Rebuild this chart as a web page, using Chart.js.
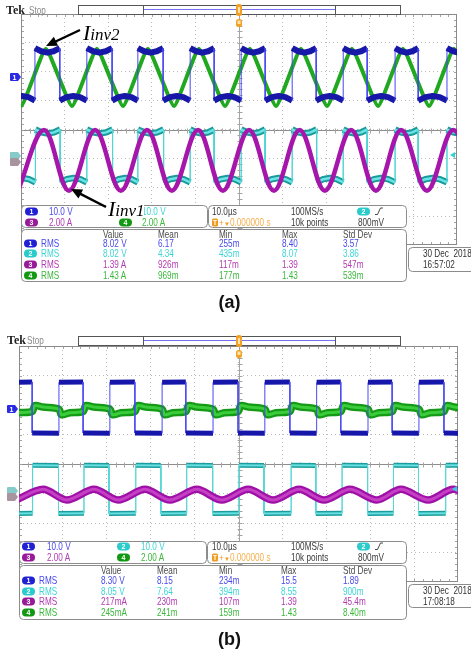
<!DOCTYPE html>
<html>
<head>
<meta charset="utf-8">
<title>Oscilloscope captures</title>
<script src="https://cdn.jsdelivr.net/npm/chart.js"></script>
<style>
  html, body { margin: 0; padding: 0; background: #fff; }
  #page { position: relative; width: 471px; height: 651px; overflow: hidden; background: #fff; }
  .scr { position: absolute; }
  .scr canvas { display: block; }
  #ov { position: absolute; left: 0; top: 0; }
</style>
</head>
<body>
<div id="page">
  <div class="scr" style="left:21px;top:14px;width:436px;height:231px"><canvas id="cA" width="436" height="231"></canvas></div>
  <div class="scr" style="left:19px;top:346px;width:439px;height:236px"><canvas id="cB" width="439" height="236"></canvas></div>
  <svg id="ov" width="471" height="651" xmlns="http://www.w3.org/2000/svg"></svg>
</div>
<script>
// ---------------- DATA (time in µs across the 100 µs screen, amplitude in divisions) ----------------
// Panel (a)
const A_CH1_EDGES = [-2.7, 3.2, 8.9, 15.1, 20.9, 26.8, 32.6, 38.8, 44.3, 50.5, 56.0, 62.2, 67.7, 73.9, 79.4, 85.8, 91.1, 97.7, 103.5];
const A_CH1_HIGH = [[0, 2.82], [0.25, 2.71], [0.5, 2.66], [0.75, 2.71], [1, 2.82]];
const A_CH1_LOW  = [[0, 1.00], [0.25, 1.12], [0.5, 1.16], [0.75, 1.12], [1, 1.00]];
const A_CH2_EDGES = [-2.7, 3.3, 9.0, 15.1, 21.0, 26.8, 32.7, 38.8, 44.3, 50.5, 56.0, 62.2, 67.8, 73.9, 79.4, 85.8, 91.1, 97.7, 103.5];
const A_CH2_HIGH = [[0, 0.00], [0.25, -0.10], [0.5, -0.14], [0.75, -0.10], [1, 0.00]];
const A_CH2_LOW  = [[0, -1.83], [0.25, -1.72], [0.5, -1.68], [0.75, -1.72], [1, -1.83]];
const A_CH3_T = [-0.7, 5.3, 11.0, 17.0, 22.9, 28.9, 34.6, 40.6, 46.3, 52.3, 58.0, 63.9, 69.7, 75.7, 81.4, 87.2, 93.1, 99.1, 104.9];
const A_CH3_V = [-2.12, -0.02, -2.12, -0.02, -2.12, -0.02, -2.12, -0.02, -2.12, -0.02, -2.12, -0.02, -2.12, -0.02, -2.12, -0.02, -2.12, -0.02, -2.12];
const A_CH4_T = [-6.0, 0.0, 5.7, 11.7, 17.4, 23.4, 29.1, 35.1, 40.8, 46.8, 52.5, 58.5, 64.2, 70.2, 75.9, 81.9, 87.6, 93.6, 99.3, 105.3];
const A_CH4_V = [2.80, 0.81, 2.80, 0.81, 2.80, 0.81, 2.80, 0.81, 2.80, 0.81, 2.80, 0.81, 2.80, 0.81, 2.80, 0.81, 2.80, 0.81, 2.80, 0.81];

// Panel (b)
const B_CH1_EDGES = [-2.6, 3.0, 9.1, 14.6, 20.7, 26.4, 32.6, 38.0, 44.2, 49.9, 56.0, 61.7, 67.8, 73.3, 79.5, 85.0, 91.1, 96.8, 102.8];
const B_CH1_HIGH = [[0, 2.77], [1, 2.78]];
const B_CH1_LOW  = [[0, 1.05], [1, 1.04]];
const B_CH2_EDGES = [-2.7, 3.1, 9.0, 14.8, 20.5, 26.6, 32.3, 38.2, 44.1, 50.1, 55.8, 62.0, 67.6, 73.6, 79.4, 85.3, 91.0, 97.2, 102.8];
const B_CH2_HIGH = [[0, -0.04], [1, -0.05]];
const B_CH2_LOW  = [[0, -1.68], [1, -1.67]];
const B_CH4_EDGES = [-2.6, 3.0, 9.1, 14.6, 20.7, 26.4, 32.6, 38.0, 44.2, 49.9, 56.0, 61.7, 67.8, 73.3, 79.5, 85.0, 91.1, 96.8, 102.8];
const B_CH4_UP   = [[0.1, 1.98], [0.4, 1.93], [1, 1.86]];
const B_CH4_DOWN = [[0.1, 1.67], [0.45, 1.74], [1, 1.78]];
const B_CH3_T = [-0.7, 5.5, 10.9, 17.1, 22.6, 28.7, 34.4, 40.5, 46.2, 52.2, 57.9, 63.8, 69.5, 75.4, 81.5, 87.0, 93.2, 98.9, 104.8];
const B_CH3_V = [-1.22, -0.86, -1.22, -0.86, -1.22, -0.86, -1.22, -0.86, -1.22, -0.86, -1.22, -0.86, -1.22, -0.86, -1.22, -0.86, -1.22, -0.86, -1.22];

// Text read-outs
const CH_SCALES = ['10.0 V', '10.0 V', '2.00 A', '2.00 A'];
const MEAS_HEADERS = ['Value', 'Mean', 'Min', 'Max', 'Std Dev'];
const A_RMS_CH1 = ['8.02 V', '6.17', '255m', '8.40', '3.57'];
const A_RMS_CH2 = ['8.02 V', '4.34', '435m', '8.07', '3.86'];
const A_RMS_CH3 = ['1.39 A', '926m', '117m', '1.39', '547m'];
const A_RMS_CH4 = ['1.43 A', '969m', '177m', '1.43', '539m'];
const B_RMS_CH1 = ['8.30 V', '8.15', '234m', '15.5', '1.89'];
const B_RMS_CH2 = ['8.05 V', '7.64', '394m', '8.55', '900m'];
const B_RMS_CH3 = ['217mA', '230m', '107m', '1.39', '45.4m'];
const B_RMS_CH4 = ['245mA', '241m', '159m', '1.43', '8.40m'];
const HORIZ = ['10.0µs', '100MS/s', '800mV', '10k points', '0.000000 s'];
const A_DATE = ['30 Dec  2018', '16:57:02'];
const B_DATE = ['30 Dec  2018', '17:08:18'];

// ---------------- helpers ----------------
function plateau(edges, startHigh, hi, lo) {
  const pts = [];
  for (let i = 0; i < edges.length - 1; i++) {
    const t0 = edges[i], t1 = edges[i + 1];
    const shape = ((i % 2 === 0) === startHigh) ? hi : lo;
    for (const [f, v] of shape) pts.push({ x: t0 + (t1 - t0) * f, y: v });
  }
  return pts;
}
function pairs(ts, vs) { return ts.map((t, i) => ({ x: t, y: vs[i] })); }
const isVert = c => Math.abs(c.p0.x - c.p1.x) < 0.6;
function sq(data, color, width, edgeColor, order) {
  return { data, borderColor: color, borderWidth: width, tension: 0, order,
    segment: { borderWidth: c => isVert(c) ? 1 : undefined, borderColor: c => isVert(c) ? edgeColor : undefined } };
}
function smooth(data, color, width, tension, order) {
  return { data, borderColor: color, borderWidth: width, tension, order };
}

const graticule = {
  id: 'graticule',
  beforeDatasetsDraw(chart) {
    const { ctx, chartArea: ca, scales } = chart;
    const xs = scales.x, ys = scales.y;
    ctx.save();
    ctx.lineWidth = 1;
    const cx = Math.round(xs.getPixelForValue(50)) + 0.5;
    const cy = Math.round(ys.getPixelForValue(0)) + 0.5;
    ctx.strokeStyle = '#8e8e8e';
    ctx.beginPath();
    ctx.moveTo(ca.left, cy); ctx.lineTo(ca.right, cy);
    ctx.stroke();
    ctx.strokeStyle = '#a4a4a4';
    ctx.beginPath();
    ctx.moveTo(cx, ca.top); ctx.lineTo(cx, ca.bottom);
    for (let v = 0; v <= 100; v += 2) {
      const px = Math.round(xs.getPixelForValue(v)) + 0.5;
      ctx.moveTo(px, cy - 2); ctx.lineTo(px, cy + 3);
      ctx.moveTo(px, ca.top); ctx.lineTo(px, ca.top + 3);
      ctx.moveTo(px, ca.bottom); ctx.lineTo(px, ca.bottom - 3);
    }
    for (let k = -20; k <= 20; k++) {
      const py = Math.round(ys.getPixelForValue(k / 5)) + 0.5;
      ctx.moveTo(cx - 2, py); ctx.lineTo(cx + 3, py);
      ctx.moveTo(ca.left, py); ctx.lineTo(ca.left + 3, py);
      ctx.moveTo(ca.right, py); ctx.lineTo(ca.right - 3, py);
    }
    ctx.stroke();
    ctx.strokeStyle = '#8a8a8a';
    ctx.strokeRect(ca.left + 0.5, ca.top + 0.5, ca.width - 1, ca.height - 1);
    ctx.restore();
  }
};

function scopeOptions() {
  const axis = (min, max, step) => ({
    type: 'linear', min, max,
    ticks: { display: false, stepSize: step },
    grid: { color: '#bcbcbc', drawTicks: false, lineWidth: 1 },
    border: { display: false, dash: [1, 3] }
  });
  return {
    responsive: false, animation: false, events: [],
    layout: { padding: 0 },
    plugins: { legend: { display: false }, tooltip: { enabled: false } },
    elements: { point: { radius: 0 }, line: { borderCapStyle: 'butt', borderJoinStyle: 'round', fill: false } },
    scales: { x: axis(0, 100, 10), y: axis(-4, 4, 1) }
  };
}

// ---------------- charts ----------------
new Chart(document.getElementById('cA'), {
  type: 'line',
  data: { datasets: [
    sq(plateau(A_CH1_EDGES, false, A_CH1_HIGH, A_CH1_LOW), '#1818a8', 6, '#4646f2', 0),
    smooth(pairs(A_CH4_T, A_CH4_V), '#20a820', 4, 0.12, 1),
    smooth(pairs(A_CH3_T, A_CH3_V), '#a616aa', 4.5, 0.36, 2),
    sq(plateau(A_CH2_EDGES, false, A_CH2_HIGH, A_CH2_LOW), '#6ae4e4', 2.5, '#50d4d4', 3),
    sq(plateau(A_CH2_EDGES, false, A_CH2_HIGH, A_CH2_LOW), '#1a9a9a', 6.5, '#50d4d4', 4)
  ] },
  options: scopeOptions(),
  plugins: [graticule]
});

new Chart(document.getElementById('cB'), {
  type: 'line',
  data: { datasets: [
    sq(plateau(B_CH1_EDGES, true, B_CH1_HIGH, B_CH1_LOW), '#1616aa', 5, '#4a4af5', 0),
    smooth(plateau(B_CH4_EDGES, false, B_CH4_UP, B_CH4_DOWN), '#3acc3a', 3, 0.3, 1),
    smooth(plateau(B_CH4_EDGES, false, B_CH4_UP, B_CH4_DOWN), '#149a14', 7.5, 0.3, 2),
    smooth(pairs(B_CH3_T, B_CH3_V), '#c640c6', 3, 0.3, 3),
    smooth(pairs(B_CH3_T, B_CH3_V), '#9e10a6', 7.5, 0.3, 4),
    sq(plateau(B_CH2_EDGES, false, B_CH2_HIGH, B_CH2_LOW), '#66e0e0', 2, '#5ad6d6', 5),
    sq(plateau(B_CH2_EDGES, false, B_CH2_HIGH, B_CH2_LOW), '#1c9c9c', 5, '#5ad6d6', 6)
  ] },
  options: scopeOptions(),
  plugins: [graticule]
});

// ---------------- overlay (boxes and text) ----------------
const NS = 'http://www.w3.org/2000/svg';
const ov = document.getElementById('ov');
function add(tag, attrs, text, parent) {
  const e = document.createElementNS(NS, tag);
  for (const k in attrs) e.setAttribute(k, attrs[k]);
  if (text !== undefined) e.textContent = text;
  (parent || ov).appendChild(e);
  return e;
}
const SANS = 'Liberation Sans, Arial, sans-serif';
function txt(x, y, s, fill, size, sx, extra) {
  const a = { transform: `translate(${x} ${y}) scale(${sx === undefined ? 0.82 : sx} 1)`, 'font-family': SANS, 'font-size': size || 10, fill };
  Object.assign(a, extra || {});
  const e = add('text', a, s);
  e.style.whiteSpace = 'pre';
  return e;
}
const TXT = { 1: '#4848ee', 2: '#3fd4d4', 3: '#b23ab2', 4: '#3cb83c' };
const PILL = { 1: '#2020d4', 2: '#2ccbcb', 3: '#981a98', 4: '#129812' };
const DARK = '#3a3a3a';
function pill(x, base, n, color) {
  add('rect', { x, y: base - 7.5, width: 13, height: 8, rx: 4, fill: color });
  txt(x + 6.5, base - 1.3, String(n), '#fff', 7, 1, { 'text-anchor': 'middle', 'font-weight': 'bold' });
}
function box(x0, y0, x1, y1) {
  add('rect', { x: x0 + 0.5, y: y0 + 0.5, width: x1 - x0, height: y1 - y0, rx: 4, fill: '#fff', stroke: '#8c8c8c', 'stroke-width': 1 });
}
function tag(x, y, fill, label) {
  add('path', { d: `M${x + 1},${y} h7 l3,4 l-3,4 h-7 q-1,0 -1,-1 v-6 q0,-1 1,-1 z`, fill });
  if (label) txt(x + 4.5, y + 6.8, label, '#fff', 7, 1, { 'text-anchor': 'middle', 'font-weight': 'bold' });
}

const LAY_A = {
  tek: [6, 13.5], stop: [29, 13.5], bar: [78, 5, 400, 14], trig: [236, 4], trig2: [236, 19],
  b1: [21, 205, 207, 227], b2: [208, 205, 406, 227], b3: [21, 229, 406, 281], dt: [408, 247, 271],
  r1: 215, r2: 226, hdr: 238, rows: [247, 257, 268, 279], dRows: [257, 268],
  pillL: 25, txtL: 49, pillR: 119, txtR: 142, p3: 24, rms: 41, cols: [103, 158, 219, 282, 343],
  ch1: [10, 73], ch23: [10, 152], trigR: [455, 155], cap: [229.5, 308, '(a)']
};
const LAY_B = {
  tek: [7, 344], stop: [27, 344], bar: [78, 336, 400, 345], trig: [236, 335], trig2: [236, 350],
  b1: [19, 541, 206, 563], b2: [207, 541, 406, 563], b3: [19, 565, 406, 619], dt: [408, 584, 607],
  r1: 550, r2: 561, hdr: 574, rows: [584, 595, 605, 616], dRows: [594, 605],
  pillL: 22, txtL: 47, pillR: 117, txtR: 141, p3: 22, rms: 39, cols: [101, 157, 219, 281, 343],
  ch1: [7, 405], ch23: [7, 487], trigR: [457, 489], cap: [229.5, 645, '(b)']
};

function panel(L, rms, date) {
  txt(L.tek[0], L.tek[1], 'Tek', '#1e1e1e', 12, 1, { 'font-family': 'Liberation Serif, serif', 'font-weight': 'bold' });
  txt(L.stop[0], L.stop[1], 'Stop', '#8a8a8a', 10);
  const [bx0, by0, bx1, by1] = L.bar;
  add('rect', { x: bx0 + 0.5, y: by0 + 0.5, width: bx1 - bx0, height: by1 - by0, fill: '#fff', stroke: '#555' });
  add('line', { x1: 143.5, y1: by0, x2: 143.5, y2: by1 + 1, stroke: '#555' });
  add('line', { x1: 335.5, y1: by0, x2: 335.5, y2: by1 + 1, stroke: '#555' });
  add('line', { x1: 144, y1: by0 + 4.5, x2: 335, y2: by0 + 4.5, stroke: '#7474f2' });
  add('rect', { x: L.trig[0], y: L.trig[1], width: 6, height: 12, rx: 2.5, fill: '#f2a126' });
  add('rect', { x: L.trig[0] + 2, y: L.trig[1] + 3, width: 2, height: 6, fill: '#fde2b0' });
  add('rect', { x: L.trig2[0], y: L.trig2[1], width: 6, height: 8, rx: 2.5, fill: '#f2a126' });
  add('rect', { x: L.trig2[0] + 1.5, y: L.trig2[1] + 1.5, width: 3, height: 3.5, fill: '#fde2b0' });
  tag(L.ch1[0], L.ch1[1], '#2a2ae4', '1');
  tag(L.ch23[0], L.ch23[1], '#86caca', '');
  tag(L.ch23[0], L.ch23[1] + 6, '#a8949f', '');
  add('polygon', { points: `${L.trigR[0]},${L.trigR[1] - 3} ${L.trigR[0]},${L.trigR[1] + 3} ${L.trigR[0] - 5},${L.trigR[1]}`, fill: '#2ed4d4' });

  // vertical scale box
  box(...L.b1);
  pill(L.pillL, L.r1, 1, PILL[1]); txt(L.txtL, L.r1, CH_SCALES[0], TXT[1]);
  pill(L.pillR, L.r1, 2, PILL[2]); txt(L.txtR, L.r1, CH_SCALES[1], TXT[2]);
  pill(L.pillL, L.r2, 3, PILL[3]); txt(L.txtL, L.r2, CH_SCALES[2], TXT[3]);
  pill(L.pillR, L.r2, 4, PILL[4]); txt(L.txtR, L.r2, CH_SCALES[3], TXT[4]);

  // horizontal / trigger box
  box(...L.b2);
  txt(212, L.r1, HORIZ[0], DARK);
  txt(291, L.r1, HORIZ[1], DARK);
  pill(357, L.r1, 2, PILL[2]);
  add('polyline', { points: `375,${L.r1 - 0.5} 377.5,${L.r1 - 0.5} 380.5,${L.r1 - 7} 383,${L.r1 - 7}`, fill: 'none', stroke: '#333', 'stroke-width': 0.9 });
  txt(358, L.r2, HORIZ[2], DARK);
  add('rect', { x: 212, y: L.r2 - 7.5, width: 6, height: 8, rx: 1.5, fill: '#ef9b1f' });
  txt(215, L.r2 - 1.3, 'T', '#fff', 6.5, 1, { 'text-anchor': 'middle', 'font-weight': 'bold' });
  txt(219, L.r2, '+', '#ef9b1f', 9, 0.9);
  txt(224, L.r2 - 0.5, '▼', '#ef9b1f', 6, 1);
  txt(230, L.r2, HORIZ[4], '#f4b04c');
  txt(291, L.r2, HORIZ[3], DARK);

  // measurement box
  box(...L.b3);
  MEAS_HEADERS.forEach((h, i) => txt(L.cols[i], L.hdr, h, '#4a4a4a'));
  rms.forEach((row, r) => {
    const y = L.rows[r], ch = r + 1;
    pill(L.p3, y, ch, PILL[ch]);
    txt(L.rms, y, 'RMS', TXT[ch]);
    row.forEach((v, i) => txt(L.cols[i], y, v, TXT[ch]));
  });

  // date box
  box(408, L.dt[1], 480, L.dt[2]);
  txt(423, L.dRows[0], date[0], '#333');
  txt(423, L.dRows[1], date[1], '#333');

  txt(L.cap[0], L.cap[1], L.cap[2], '#111', 18, 1, { 'text-anchor': 'middle', 'font-weight': 'bold' });
}

panel(LAY_A, [A_RMS_CH1, A_RMS_CH2, A_RMS_CH3, A_RMS_CH4], A_DATE);
panel(LAY_B, [B_RMS_CH1, B_RMS_CH2, B_RMS_CH3, B_RMS_CH4], B_DATE);

// annotation labels with arrows (panel a)
function arrow(tipX, tipY, tailX, tailY) {
  const dx = tailX - tipX, dy = tailY - tipY, len = Math.hypot(dx, dy), ux = dx / len, uy = dy / len;
  const hl = 11, hw = 5;
  const bx = tipX + ux * hl, by = tipY + uy * hl;
  add('line', { x1: bx - ux, y1: by - uy, x2: tailX, y2: tailY, stroke: '#000', 'stroke-width': 2.4 });
  add('polygon', { points: `${tipX},${tipY} ${bx - uy * hw},${by + ux * hw} ${bx + uy * hw},${by - ux * hw}`, fill: '#000' });
}
function label(x, y, sub) {
  const t = add('text', { x, y, 'font-family': 'Liberation Serif, Times New Roman, serif', 'font-style': 'italic', fill: '#000' });
  add('tspan', { 'font-size': 22 }, 'I', t);
  add('tspan', { 'font-size': 17 }, sub, t);
}
add('rect', { x: 106, y: 200, width: 38, height: 18, fill: '#fff' });
arrow(46, 46, 80, 30);
label(83, 40, 'inv2');
arrow(71, 189, 106, 207);
label(108, 216, 'inv1');
</script>
</body>
</html>
